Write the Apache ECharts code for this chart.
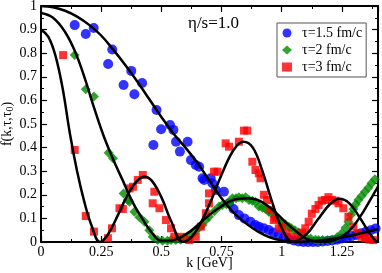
<!DOCTYPE html>
<html>
<head>
<meta charset="utf-8">
<script src="https://cdn.jsdelivr.net/npm/echarts@6/dist/echarts.min.js"></script>
<style>
html,body{margin:0;padding:0;background:#fff;}
#c{width:382px;height:273px;}
</style>
</head>
<body>
<div id="c"></div>
<script>
// ---- data ----
var xTickLabels = ['0', '0.25', '0.5', '0.75', '1', '1.25'];
var seriesNames = ['τ=1.5 fm/c', 'τ=2 fm/c', 'τ=3 fm/c'];

// blue circles (tau = 1.5 fm/c)
var blueK = [0.14,0.186,0.219,0.279,0.296,0.343,0.375,0.388,0.42,0.467,0.48,0.499,0.536,0.55,0.561,0.577,0.609,0.623,0.643,0.657,0.671,0.678,0.705,0.712,0.726,0.76,0.781,0.80,0.822,0.845,0.87,0.89,0.905,0.925,0.946,0.966,0.988,1.01,1.03,1.05,1.07,1.09,1.11,1.13,1.15,1.17,1.19,1.21,1.23,1.25,1.27,1.29,1.31,1.33,1.35,1.37,1.39];
var blueF = [0.919,0.881,0.907,0.754,0.816,0.665,0.725,0.626,0.674,0.411,0.559,0.478,0.496,0.475,0.425,0.383,0.425,0.347,0.326,0.319,0.27,0.263,0.27,0.249,0.22,0.213,0.164,0.14,0.114,0.10,0.086,0.072,0.065,0.058,0.051,0.04,0.03,0.02,0.012,0.006,0.002,0.0,0.0,0.0,0.0,0.002,0.004,0.006,0.01,0.015,0.02,0.025,0.03,0.037,0.043,0.05,0.057];

// green diamonds (tau = 2 fm/c)
var greenK = [0.14,0.186,0.22,0.281,0.299,0.343,0.361,0.368,0.388,0.409,0.43,0.45,0.464,0.485,0.505,0.525,0.54,0.56,0.58,0.6,0.62,0.64,0.657,0.671,0.685,0.698,0.72,0.74,0.753,0.77,0.781,0.795,0.81,0.822,0.836,0.85,0.864,0.878,0.891,0.905,0.92,0.933,0.946,0.96,0.974,0.988,1.0,1.015,1.03,1.04,1.055,1.07,1.085,1.098,1.12,1.14,1.153,1.17,1.19,1.21,1.23,1.25,1.265,1.277,1.288,1.298,1.308,1.318,1.332,1.346,1.36,1.373,1.387];
var greenF = [0.792,0.647,0.616,0.378,0.355,0.206,0.178,0.171,0.128,0.105,0.086,0.05,0.022,0.008,0.005,0.005,0.008,0.008,0.01,0.016,0.025,0.044,0.06,0.072,0.093,0.107,0.13,0.15,0.157,0.16,0.164,0.185,0.185,0.19,0.185,0.19,0.178,0.175,0.17,0.15,0.145,0.14,0.128,0.12,0.11,0.093,0.085,0.075,0.065,0.058,0.05,0.04,0.03,0.022,0.015,0.01,0.008,0.008,0.009,0.011,0.02,0.037,0.06,0.086,0.115,0.14,0.16,0.178,0.195,0.213,0.23,0.249,0.266];

// red squares (tau = 3 fm/c)
var redK = [0.092,0.14,0.186,0.22,0.278,0.295,0.326,0.34,0.368,0.382,0.402,0.423,0.464,0.471,0.492,0.519,0.54,0.554,0.581,0.616,0.643,0.664,0.685,0.698,0.698,0.719,0.733,0.767,0.781,0.822,0.843,0.857,0.878,0.891,0.905,0.912,0.926,0.939,0.953,0.967,0.974,0.988,1.0,1.02,1.04,1.07,1.085,1.098,1.112,1.125,1.14,1.153,1.166,1.18,1.194,1.208,1.222,1.236,1.256,1.277,1.298,1.318,1.332,1.346,1.363,1.38];
var redF = [0.792,0.39,0.11,0.044,0.016,0.058,0.143,0.14,0.227,0.234,0.263,0.284,0.164,0.213,0.143,0.093,0.058,0.022,0.022,0.008,0.022,0.065,0.122,0.164,0.206,0.298,0.298,0.418,0.404,0.425,0.472,0.472,0.34,0.305,0.291,0.27,0.2,0.178,0.136,0.093,0.1,0.058,0.065,0.04,0.022,0.016,0.04,0.058,0.086,0.12,0.14,0.157,0.175,0.178,0.19,0.178,0.175,0.164,0.143,0.107,0.065,0.037,0.022,0.016,0.01,0.008];

// black fit curves
var fitBlueK = [0,0.05,0.1,0.15,0.2,0.25,0.3,0.35,0.4,0.45,0.5,0.55,0.6,0.65,0.7,0.75,0.8,0.85,0.9,0.95,1.0,1.05,1.1,1.15,1.2,1.25,1.3,1.35,1.4];
var fitBlueF = [1.0,0.995,0.98,0.955,0.92,0.875,0.815,0.75,0.68,0.605,0.53,0.46,0.4,0.335,0.26,0.185,0.125,0.08,0.045,0.02,0.006,0.0,0.002,0.006,0.012,0.02,0.03,0.042,0.055];

var fitGreenK = [0,0.05,0.1,0.14,0.18,0.22,0.26,0.3,0.34,0.38,0.42,0.46,0.5,0.54,0.58,0.62,0.66,0.7,0.74,0.78,0.82,0.86,0.9,0.94,0.98,1.02,1.06,1.1,1.14,1.18,1.22,1.26,1.3,1.34,1.38,1.4];
var fitGreenF = [0.97,0.95,0.89,0.81,0.7,0.57,0.45,0.35,0.26,0.17,0.1,0.04,0.005,0.005,0.02,0.045,0.08,0.115,0.145,0.17,0.183,0.185,0.178,0.155,0.12,0.08,0.045,0.015,0.002,0.0,0.008,0.03,0.07,0.13,0.2,0.235];

var fitRedK = [0,0.03,0.06,0.09,0.12,0.15,0.18,0.21,0.245,0.28,0.32,0.36,0.4,0.43,0.46,0.5,0.54,0.59,0.64,0.7,0.75,0.8,0.84,0.88,0.92,0.96,1.0,1.045,1.1,1.15,1.2,1.24,1.28,1.32,1.36,1.39,1.4];
var fitRedF = [0.9,0.87,0.79,0.65,0.46,0.3,0.17,0.07,0.0,0.035,0.115,0.2,0.26,0.277,0.26,0.19,0.09,0.0,0.04,0.16,0.285,0.39,0.425,0.4,0.3,0.17,0.06,0.0,0.03,0.095,0.16,0.183,0.165,0.11,0.045,0.005,0.0];

function pairs(a, b) { return a.map(function (v, i) { return [v, b[i]]; }); }

var FONT = '"Liberation Serif","DejaVu Serif",serif';
var chart = echarts.init(document.getElementById('c'), null, {renderer: 'canvas'});

function mkX(pos, showLabel) {
  return {
    type: 'value', min: 0, max: 1.4, interval: 0.25, position: pos,
    axisLine: {show: true, onZero: false, lineStyle: {color: '#000', width: 2}},
    axisTick: {show: true, inside: true, length: 6, lineStyle: {color: '#000', width: 1.2}},
    minorTick: {show: true, splitNumber: 2, length: 3, lineStyle: {color: '#000', width: 1}},
    splitLine: {show: false},
    axisLabel: {
      show: showLabel, margin: 3, color: '#000', fontFamily: FONT, fontSize: 14,
      showMaxLabel: false,
      formatter: function (v) {
        var i = Math.round(v / 0.25);
        if (Math.abs(v - i * 0.25) > 1e-6) return '';
        return xTickLabels[i] || '';
      }
    }
  };
}
function mkY(pos, showLabel) {
  return {
    type: 'value', min: 0, max: 1, interval: 0.1, position: pos,
    axisLine: {show: true, onZero: false, lineStyle: {color: '#000', width: 2}},
    axisTick: {show: true, inside: true, length: 6, lineStyle: {color: '#000', width: 1.2}},
    minorTick: {show: true, splitNumber: 2, length: 3, lineStyle: {color: '#000', width: 1}},
    splitLine: {show: false},
    axisLabel: {show: showLabel, margin: 4, color: '#000', fontFamily: FONT, fontSize: 14,
      formatter: function (v) { return String(Math.round(v * 10) / 10); }}
  };
}

var xb = mkX('bottom', true);
xb.name = 'k [GeV]'; xb.nameLocation = 'middle'; xb.nameGap = 14; xb.nameMoveOverlap = false;
xb.nameTextStyle = {fontFamily: FONT, fontSize: 14, color: '#000', lineHeight: 14};
var yl = mkY('left', true);
yl.name = '{a|f(k,τ,τ}{s|0}{a|)}'; yl.nameLocation = 'middle'; yl.nameGap = 26; yl.nameMoveOverlap = false;
yl.nameTextStyle = {
  fontFamily: FONT, fontSize: 14, color: '#000',
  rich: {
    a: {fontFamily: FONT, fontSize: 14, color: '#000', lineHeight: 15, verticalAlign: 'middle'},
    s: {fontFamily: FONT, fontSize: 10, color: '#000', lineHeight: 15, verticalAlign: 'bottom'}
  }
};
var xt = mkX('top', false);
var yr = mkY('right', false);

var option = {
  animation: false,
  backgroundColor: '#fff',
  title: {
    text: 'η/s=1.0', left: 183, top: 10,
    textStyle: {fontFamily: FONT, fontSize: 17, fontWeight: 'normal', color: '#000'}
  },
  grid: {left: 41, right: 4, top: 6, bottom: 31, containLabel: false, outerBoundsMode: 'none'},
  xAxis: [xb, xt],
  yAxis: [yl, yr],
  legend: {
    data: seriesNames,
    orient: 'vertical', left: 277, top: 23,
    itemWidth: 10, itemHeight: 9, itemGap: 3,
    borderColor: '#555', borderWidth: 1, borderRadius: 0,
    padding: [3, 4, 3, 5],
    textStyle: {fontFamily: FONT, fontSize: 14, color: '#000', lineHeight: 10, padding: [0, 0, 0, 5]}
  },
  series: [
    {name: seriesNames[0], type: 'scatter', xAxisIndex: 0, yAxisIndex: 0, symbol: 'circle', symbolSize: 10,
     itemStyle: {color: '#0000ff'}, data: pairs(blueK, blueF), z: 2},
    {name: seriesNames[1], type: 'scatter', xAxisIndex: 0, yAxisIndex: 0, symbol: 'diamond', symbolSize: 10,
     itemStyle: {color: '#008b00'}, data: pairs(greenK, greenF), z: 2},
    {name: seriesNames[2], type: 'scatter', xAxisIndex: 0, yAxisIndex: 0, symbol: 'rect', symbolSize: 8,
     itemStyle: {color: '#ff0000'}, data: pairs(redK, redF), z: 2},
    {type: 'line', data: pairs(fitBlueK, fitBlueF), showSymbol: false, smooth: 0.4, z: 5,
     lineStyle: {color: '#000', width: 2.5}, silent: true},
    {type: 'line', data: pairs(fitGreenK, fitGreenF), showSymbol: false, smooth: 0.4, z: 5,
     lineStyle: {color: '#000', width: 2.5}, silent: true},
    {type: 'line', data: pairs(fitRedK, fitRedF), showSymbol: false, smooth: 0.4, z: 5,
     lineStyle: {color: '#000', width: 2.5}, silent: true}
  ]
};
chart.setOption(option);
</script>
</body>
</html>
